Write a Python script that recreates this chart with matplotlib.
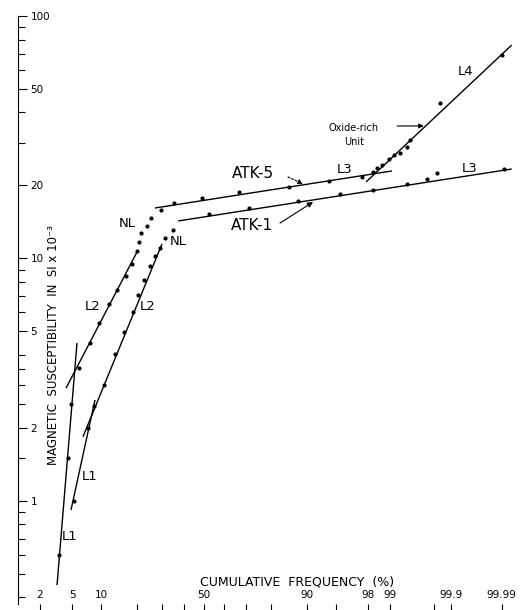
import numpy as np
import matplotlib
matplotlib.use("Agg")
import matplotlib.pyplot as plt
from matplotlib.ticker import NullFormatter
from statistics import NormalDist

matplotlib.rcParams.update({'font.family': 'DejaVu Sans', 'font.size': 8})

# cumulative frequency (%) and susceptibility (SI x 1e-3)
atk5_freq = [3.5, 4.46, 4.82, 5.91, 7.71, 9.47, 11.75, 13.84, 16.48, 18.41, 20.12,
             20.83, 21.55, 23.81, 25.38, 29.55, 35.38, 49.0, 66.9, 85.6, 94.09, 97.59,
             98.27, 98.47, 98.70, 98.96, 99.12, 99.29, 99.44, 99.50, 99.84, 99.990]
atk5_susc = [0.60, 1.50, 2.51, 3.54, 4.48, 5.42, 6.49, 7.42, 8.47, 9.49, 10.74,
             11.7, 12.74, 13.6, 14.69, 15.85, 16.94, 17.77, 18.8, 19.72, 20.87, 21.68,
             22.73, 23.61, 24.3, 25.72, 26.72, 27.2, 28.83, 30.8, 43.8, 69.1]

atk1_freq = [5.21, 7.36, 8.46, 10.56, 13.30, 15.87, 18.74, 20.47, 22.66, 24.98, 27.0,
             29.12, 31.29, 34.92, 52.5, 71.3, 88.0, 95.54, 98.27, 99.44, 99.73, 99.82, 99.991]
atk1_susc = [1.0, 2.0, 2.47, 3.01, 4.04, 4.98, 6.02, 7.07, 8.15, 9.31, 10.24,
             11.05, 12.15, 13.11, 15.26, 16.15, 17.27, 18.45, 19.16, 20.28, 21.27, 22.53, 23.39]

# fitted population lines: (freq0, freq1), (susc0, susc1)
fits = {
    'atk5_L1': ((3.31, 5.62), (0.450, 4.48)),
    'atk5_L2': ((4.23, 20.12), (2.92, 10.64)),
    'atk5_L3': ((27.0, 99.06), (16.15, 22.96)),
    'atk5_L4': ((97.86, 99.994), (20.68, 75.9)),
    'atk1_L1': ((4.82, 8.65), (0.918, 2.61)),
    'atk1_L2': ((6.52, 29.98), (1.84, 11.48)),
    'atk1_L3': ((37.3, 99.994), (14.28, 23.39)),
}

xticks_major = [2, 5, 10, 50, 90, 98, 99, 99.9, 99.99]
xtick_labels = ['2', '5', '10', '50', '90', '98', '99', '99.9', '99.99']
xticks_minor = [20, 30, 40, 60, 70, 80, 95, 99.8]
yticks_major = [1, 2, 5, 10, 20, 50, 100]
ytick_labels = ['1', '2', '5', '10', '20', '50', '100']
yticks_minor = [0.4, 0.5, 0.6, 0.7, 0.8, 0.9, 1.5, 2.5, 3, 3.5, 4, 6, 7, 8, 9,
                30, 40, 60, 70, 80, 90]

nd = NormalDist()
_ppf = np.vectorize(nd.inv_cdf, otypes=[float])
_cdf = np.vectorize(nd.cdf, otypes=[float])


def prob_fwd(p):
    p = np.clip(np.asarray(p, dtype=float) / 100.0, 1e-9, 1 - 1e-9)
    return _ppf(p)


def prob_inv(z):
    return _cdf(np.asarray(z, dtype=float)) * 100.0


fig = plt.figure(figsize=(5.26, 6.10), dpi=100)
ax = fig.add_axes([18 / 526, 6 / 610, 506 / 526, 588 / 610])
ax.set_xscale('function', functions=(prob_fwd, prob_inv))
ax.set_yscale('log')
ax.set_xlim(1.004, 99.99683)
ax.set_ylim(0.376, 100)

for key, (fx, fy) in fits.items():
    ax.plot(fx, fy, color='black', lw=1.0, solid_capstyle='butt')

ax.plot(atk5_freq, atk5_susc, 'o', color='black', ms=3.0, mew=0)
ax.plot(atk1_freq, atk1_susc, 'o', color='black', ms=3.0, mew=0)

# axes styling
for s in ['top', 'right', 'bottom']:
    ax.spines[s].set_visible(False)
ax.spines['left'].set_linewidth(0.8)

ax.set_yticks(yticks_major)
ax.set_yticklabels(ytick_labels)
ax.set_yticks(yticks_minor, minor=True)
ax.yaxis.set_minor_formatter(NullFormatter())
ax.tick_params(axis='y', which='major', direction='in', length=6.5, width=0.8,
               pad=-9, labelsize=7.5)
ax.tick_params(axis='y', which='minor', direction='in', length=5, width=0.8)
plt.setp(ax.get_yticklabels(), ha='left')

ax.set_xticks(xticks_major)
ax.set_xticklabels(xtick_labels)
ax.set_xticks(xticks_minor, minor=True)
ax.xaxis.set_minor_formatter(NullFormatter())
ax.tick_params(axis='x', which='both', direction='out', length=4.5, width=0.8,
               pad=-7.5, labelsize=7.5)
plt.setp(ax.get_xticklabels(), va='bottom')

ax.text((54 - 18) / 506, (604 - 345) / 588, 'MAGNETIC  SUSCEPTIBILITY  IN  SI x 10\u207b\u00b3',
        transform=ax.transAxes, rotation=90, fontsize=8.5, ha='center', va='center')
ax.text((297 - 18) / 506, (604 - 582) / 588, 'CUMULATIVE  FREQUENCY  (%)',
        transform=ax.transAxes, fontsize=9, ha='center', va='center')

# population labels
lab = dict(fontsize=9.5, ha='center', va='center')
ax.text(4.70, 0.711, 'L1', **lab)
ax.text(7.71, 1.256, 'L1', **lab)
ax.text(8.27, 6.31, 'L2', **lab)
ax.text(24.2, 6.31, 'L2', **lab)
ax.text(16.79, 14.0, 'NL', **lab)
ax.text(37.26, 11.7, 'NL', **lab)
ax.text(96.1, 23.39, 'L3', **lab)
ax.text(99.956, 23.61, 'L3', **lab)
ax.text(99.945, 58.8, 'L4', **lab)

ax.text(72.99, 22.5, 'ATK-5', fontsize=11, fontweight='medium', ha='center', va='center')
ax.text(72.57, 13.74, 'ATK-1', fontsize=11, fontweight='medium', ha='center', va='center')
ax.annotate('', xy=(89.2, 20.28), xytext=(85.31, 21.7),
            arrowprops=dict(arrowstyle='-|>', color='black', lw=0.8, ls=(0, (2, 1.5)),
                            mutation_scale=7, shrinkA=0, shrinkB=0))
ax.annotate('', xy=(91.35, 17.1), xytext=(82.9, 14.0),
            arrowprops=dict(arrowstyle='-|>', color='black', lw=0.8,
                            mutation_scale=8, shrinkA=0, shrinkB=0))

ax.text(96.96, 34.5, 'Oxide-rich', fontsize=7, ha='center', va='center')
ax.text(96.96, 30.2, 'Unit', fontsize=7, ha='center', va='center')
ax.annotate('', xy=(99.70, 35.2), xytext=(99.21, 35.2),
            arrowprops=dict(arrowstyle='-|>', color='black', lw=0.8,
                            mutation_scale=7, shrinkA=0, shrinkB=0))

fig.savefig('out.png', dpi=100)
